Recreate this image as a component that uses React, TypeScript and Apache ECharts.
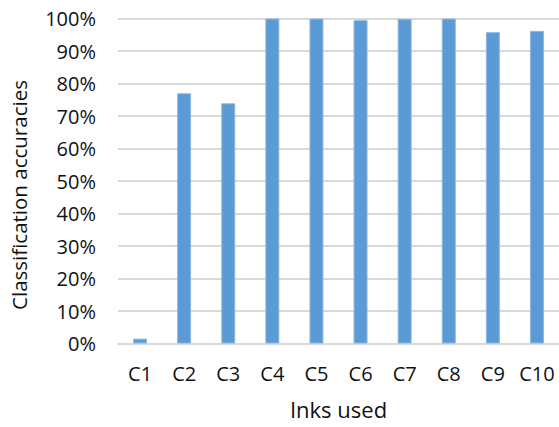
import React, { useEffect, useRef } from "react";
import * as echarts from "echarts";

// Ink classes and their classification accuracies (%)
const categories = ["C1", "C2", "C3", "C4", "C5", "C6", "C7", "C8", "C9", "C10"];
const accuracies = [1.5, 77.0, 73.9, 100, 100, 99.5, 99.9, 100, 95.8, 96.2];
const yTicks = [0, 10, 20, 30, 40, 50, 60, 70, 80, 90, 100];

const FONT = "'Open Sans', 'Liberation Sans', sans-serif";

export default function App() {
  const ref = useRef<HTMLDivElement>(null);

  useEffect(() => {
    document.body.style.margin = "0";
    if (!ref.current) return;
    const chart = echarts.init(ref.current, null, { renderer: "svg" });
    chart.setOption({
      animation: false,
      backgroundColor: "#ffffff",
      textStyle: { fontFamily: FONT },
      grid: { left: 118, right: -2, top: 18.5, bottom: 83.5, containLabel: false },
      xAxis: {
        type: "category",
        data: categories,
        name: "Inks used",
        nameLocation: "middle",
        nameGap: 54,
        nameTextStyle: { fontSize: 22, color: "#111", fontFamily: FONT },
        axisLine: { lineStyle: { color: "#D9D9D9", width: 2 } },
        axisTick: { show: false },
        axisLabel: { interval: 0, fontSize: 20, color: "#111", margin: 20, fontFamily: FONT },
      },
      yAxis: {
        type: "value",
        min: yTicks[0],
        max: yTicks[yTicks.length - 1],
        interval: 10,
        name: "Classification accuracies",
        nameLocation: "middle",
        nameRotate: 90,
        nameGap: 89,
        nameTextStyle: {
          fontSize: 20.5,
          color: "#111",
          fontFamily: FONT,
          padding: [0, 28, 0, 0],
        },
        axisLine: { show: false },
        axisTick: { show: false },
        splitLine: { lineStyle: { color: "#D9D9D9", width: 2 } },
        axisLabel: {
          fontSize: 20,
          color: "#111",
          margin: 22,
          fontFamily: FONT,
          formatter: (v: number) => `${v}%`,
        },
      },
      series: [
        {
          type: "bar",
          data: accuracies,
          barWidth: 14,
          itemStyle: { color: "#5B9BD5", borderColor: "#8DB8E4", borderWidth: 1 },
        },
      ],
    });
    return () => chart.dispose();
  }, []);

  return <div ref={ref} style={{ width: 559, height: 427 }} />;
}
